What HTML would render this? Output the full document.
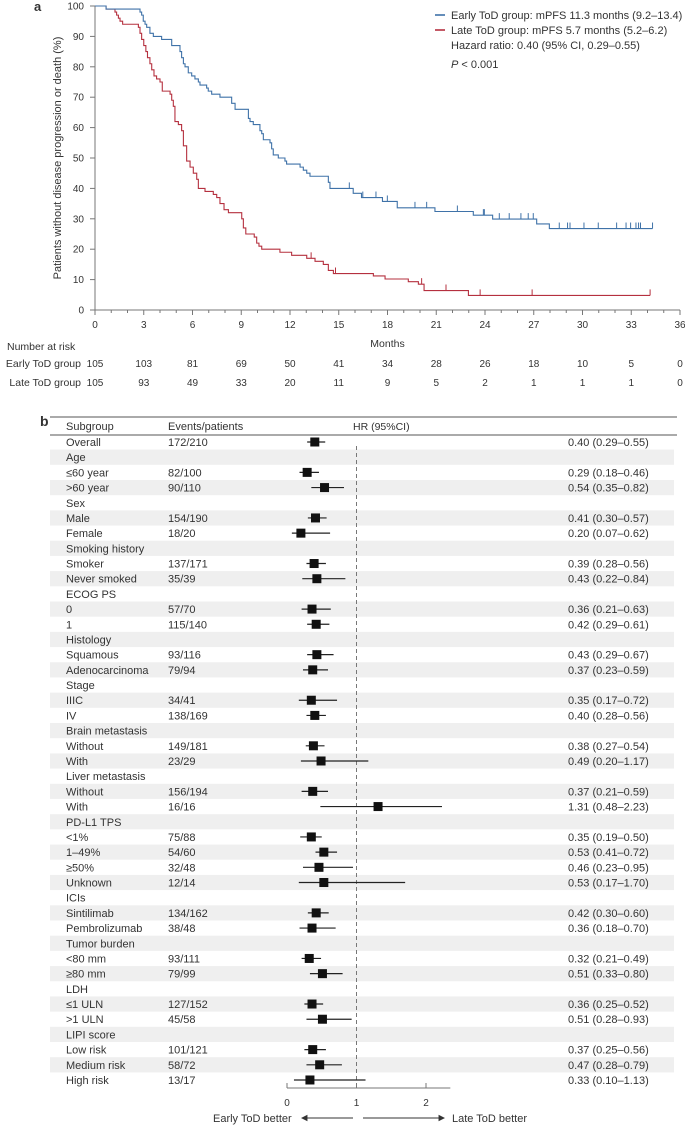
<!DOCTYPE html>
<html><head><meta charset="utf-8"><style>
body{margin:0;background:#fff}
svg{display:block;font-family:"Liberation Sans",sans-serif;fill:#333}
text{fill:#333}
</style></head><body>
<svg id="fig" width="685" height="1125" viewBox="0 0 685 1125" xmlns="http://www.w3.org/2000/svg">
<g id="km"></g>
<g id="fp"></g>
</svg>
<script>
// ---------- KM data ----------
const xTicks=[0,3,6,9,12,15,18,21,24,27,30,33,36];
const yTicks=[0,10,20,30,40,50,60,70,80,90,100];
const earlyT=[0,0.68,2.77,2.87,2.97,3.08,3.18,3.38,3.59,4.10,4.72,5.23,5.33,5.44,5.54,5.74,5.95,6.15,6.36,6.46,6.87,6.97,7.18,7.69,8.41,8.62,9.44,9.54,9.74,10.15,10.26,10.36,10.77,10.87,10.97,11.28,11.69,11.79,12.62,12.82,13.03,13.23,14.36,14.46,15.89,16.40,17.69,18.60,20.92,23.28,24.47,27.18,27.96];
const earlyS=[100,99,98,97,95,94,93,91,90,89,87,85,83,81,80,78,77,76,75,74,73,72,71,70,68,66,63,62,61,59,58,56,55,53,51,50,49,48,47,46,45,44,42,40,38.4,37,35.7,33.6,32.4,31.2,29.9,28.3,26.8];
const earlyEnd=34.31;
const earlyCens=[15.65,16.48,17.29,17.99,19.69,20.41,22.30,23.90,23.96,24.88,25.49,26.21,26.66,26.97,28.57,29.08,29.23,30.09,30.97,32.1,32.68,32.96,33.29,33.45,33.57,34.31];
const lateT=[0,0.68,1.23,1.33,1.44,1.54,1.70,2.67,2.77,2.87,3.0,3.13,3.23,3.38,3.49,3.63,3.79,4.0,4.14,4.62,4.72,4.82,4.92,5.13,5.33,5.44,5.64,5.85,6.05,6.26,6.36,6.77,7.28,7.49,7.69,7.94,8.21,9.03,9.13,9.28,9.8,9.95,10.09,10.26,11.38,12.10,13.03,13.54,14.05,14.36,14.67,17.13,17.85,19.28,19.90,20.25,22.98];
const lateS=[100,99,98,97,96,95,94,93,91,89,87,85,83,81,79,77,76,75,72,71,69,67,62,61,59,54,49,47,45,43,40,39,38,37,35,33,32,30,27,25,24,22,21,20,19,18,17,16,15,13,12,11.2,10.2,9.3,8.5,6.4,4.8];
const lateEnd=34.16;
const lateCens=[13.3,14.8,20.1,21.6,23.7,26.9,34.16];
const riskEarly=[105,103,81,69,50,41,34,28,26,18,10,5,0];
const riskLate=[105,93,49,33,20,11,9,5,2,1,1,1,0];

// ---------- Forest data ----------
const labels=["Overall","Age","≤60 year",">60 year","Sex","Male","Female","Smoking history","Smoker","Never smoked","ECOG PS","0","1","Histology","Squamous","Adenocarcinoma","Stage","IIIC","IV","Brain metastasis","Without","With","Liver metastasis","Without","With","PD-L1 TPS","<1%","1–49%","≥50%","Unknown","ICIs","Sintilimab","Pembrolizumab","Tumor burden","<80 mm","≥80 mm","LDH","≤1 ULN",">1 ULN","LIPI score","Low risk","Medium risk","High risk"];
const events=["172/210","","82/100","90/110","","154/190","18/20","","137/171","35/39","","57/70","115/140","","93/116","79/94","","34/41","138/169","","149/181","23/29","","156/194","16/16","","75/88","54/60","32/48","12/14","","134/162","38/48","","93/111","79/99","","127/152","45/58","","101/121","58/72","13/17"];
const hr=[0.40,null,0.29,0.54,null,0.41,0.20,null,0.39,0.43,null,0.36,0.42,null,0.43,0.37,null,0.35,0.40,null,0.38,0.49,null,0.37,1.31,null,0.35,0.53,0.46,0.53,null,0.42,0.36,null,0.32,0.51,null,0.36,0.51,null,0.37,0.47,0.33];
const lo=[0.29,null,0.18,0.35,null,0.30,0.07,null,0.28,0.22,null,0.21,0.29,null,0.29,0.23,null,0.17,0.28,null,0.27,0.20,null,0.21,0.48,null,0.19,0.41,0.23,0.17,null,0.30,0.18,null,0.21,0.33,null,0.25,0.28,null,0.25,0.28,0.10];
const hi=[0.55,null,0.46,0.82,null,0.57,0.62,null,0.56,0.84,null,0.63,0.61,null,0.67,0.59,null,0.72,0.56,null,0.54,1.17,null,0.59,2.23,null,0.50,0.72,0.95,1.70,null,0.60,0.70,null,0.49,0.80,null,0.52,0.93,null,0.56,0.79,1.13];
const fTicks=[0,1,2];

const NS="http://www.w3.org/2000/svg";
function mk(parent,tag,attrs,txt){const e=document.createElementNS(NS,tag);for(const k in attrs)e.setAttribute(k,attrs[k]);if(txt!==undefined)e.textContent=txt;parent.appendChild(e);return e;}
const km=document.getElementById('km');
const X=m=>95+m*(585/36), Y=v=>310-v*3.04;
const BLUE="#3f72a8", RED="#b5303f";

let t=mk(km,'text',{x:34,y:11,'font-weight':'bold','font-size':13});t.textContent='a';


let ax=mk(km,'path',{d:`M95,${Y(100)}V310H680`,stroke:'#777',fill:'none','stroke-width':1});


yTicks.forEach(v=>{
  const tk=mk(km,'line',{x1:90,x2:95,y1:Y(v),y2:Y(v),stroke:'#777'});
  
  
  const l=mk(km,'text',{x:84,y:Y(v)+3.5,'text-anchor':'end','font-size':10},String(v));
  
  
});
for(let m=0;m<=36;m++){
  const big=m%3===0;
  const tk=mk(km,'line',{x1:X(m),x2:X(m),y1:310,y2:big?315:313,stroke:'#777'});
  
  
}
xTicks.forEach(m=>{
  const l=mk(km,'text',{x:X(m),y:328,'text-anchor':'middle','font-size':10},String(m));
  
  
});
t=mk(km,'text',{x:0,y:0,transform:`translate(61,158) rotate(-90)`,'text-anchor':'middle','font-size':11},'Patients without disease progression or death (%)');


t=mk(km,'text',{x:X(18),y:347,'text-anchor':'middle','font-size':10.5},'Months');



function stepPath(T,S,end){let d=`M${X(T[0])},${Y(S[0])}`;for(let i=1;i<T.length;i++){d+=`H${X(T[i])}V${Y(S[i])}`;}d+=`H${X(end)}`;return d;}
function survAt(T,S,m){let s=S[0];for(let i=0;i<T.length;i++){if(T[i]<=m)s=S[i];}return s;}
let p=mk(km,'path',{d:stepPath(lateT,lateS,lateEnd),stroke:RED,fill:'none','stroke-width':1.1});


p=mk(km,'path',{d:stepPath(earlyT,earlyS,earlyEnd),stroke:BLUE,fill:'none','stroke-width':1.1});


earlyCens.forEach(m=>{const y=Y(survAt(earlyT,earlyS,m));const c=mk(km,'line',{x1:X(m),x2:X(m),y1:y,y2:y-6,stroke:BLUE,'stroke-width':1});
  
  });
lateCens.forEach(m=>{const y=Y(survAt(lateT,lateS,m));const c=mk(km,'line',{x1:X(m),x2:X(m),y1:y,y2:y-6,stroke:RED,'stroke-width':1});
  
  });

const lg=mk(km,'g',{});


let e=mk(lg,'line',{x1:435,x2:445,y1:15,y2:15,stroke:BLUE,'stroke-width':1.6});


e=mk(lg,'text',{x:451,y:19,'font-size':11},'Early ToD group: mPFS 11.3 months (9.2–13.4)');


e=mk(lg,'line',{x1:435,x2:445,y1:30,y2:30,stroke:RED,'stroke-width':1.6});


e=mk(lg,'text',{x:451,y:34,'font-size':11},'Late ToD group: mPFS 5.7 months (5.2–6.2)');


e=mk(lg,'text',{x:451,y:49,'font-size':11},'Hazard ratio: 0.40 (95% CI, 0.29–0.55)');


e=mk(lg,'text',{x:451,y:68,'font-size':11});
e.innerHTML='<tspan font-style="italic">P</tspan> &lt; 0.001';



e=mk(km,'text',{x:7,y:350,'font-size':10.5},'Number at risk');


e=mk(km,'text',{x:81,y:367,'text-anchor':'end','font-size':10.5},'Early ToD group');


e=mk(km,'text',{x:81,y:386,'text-anchor':'end','font-size':10.5},'Late ToD group');


xTicks.forEach((m,i)=>{
  let a=mk(km,'text',{x:X(m),y:367,'text-anchor':'middle','font-size':10},String(riskEarly[i]));
  
  
  a=mk(km,'text',{x:X(m),y:386,'text-anchor':'middle','font-size':10},String(riskLate[i]));
  
  
});

// ---------- forest ----------
const fp=document.getElementById('fp');
const FX=v=>287+v*69.5;
const RH=15.19, R0=442;
e=mk(fp,'text',{x:40,y:426,'font-weight':'bold','font-size':14},'b');


labels.forEach((lab,i)=>{
  const cy=R0+i*RH;
  if(i%2===1){const r=mk(fp,'rect',{x:50,y:cy-RH/2,width:624,height:RH,fill:'#efefef'});
    
    }
});
e=mk(fp,'line',{x1:50,x2:677,y1:417,y2:417,stroke:'#555'});


e=mk(fp,'line',{x1:50,x2:677,y1:435,y2:435,stroke:'#555'});


e=mk(fp,'text',{x:66,y:430,'font-size':11},'Subgroup');


e=mk(fp,'text',{x:168,y:430,'font-size':11},'Events/patients');


e=mk(fp,'text',{x:353,y:430,'font-size':10.5},'HR (95%CI)');


e=mk(fp,'line',{x1:FX(1),x2:FX(1),y1:446,y2:1088,stroke:'#777','stroke-dasharray':'4,3'});


labels.forEach((lab,i)=>{
  const cy=R0+i*RH;
  let a=mk(fp,'text',{x:66,y:cy+4,'font-size':11},lab);
  
  
  if(events[i]){a=mk(fp,'text',{x:168,y:cy+4,'font-size':11},events[i]);
    
    }
  if(hr[i]!==null){
    a=mk(fp,'line',{x1:FX(lo[i]),x2:FX(hi[i]),y1:cy,y2:cy,stroke:'#222','stroke-width':1.2});
    
    
    a=mk(fp,'rect',{x:FX(hr[i])-4.5,y:cy-4.5,width:9,height:9,fill:'#111'});
    
    
    a=mk(fp,'text',{x:568,y:cy+4,'font-size':11},`${hr[i].toFixed(2)} (${lo[i].toFixed(2)}–${hi[i].toFixed(2)})`);
    
    
  }
});
e=mk(fp,'line',{x1:FX(0),x2:FX(2.35),y1:1088,y2:1088,stroke:'#777'});


fTicks.forEach(v=>{
  let a=mk(fp,'line',{x1:FX(v),x2:FX(v),y1:1083,y2:1088,stroke:'#777'});
  
  
  a=mk(fp,'text',{x:FX(v),y:1106,'text-anchor':'middle','font-size':10},String(v));
  
  
});
e=mk(fp,'text',{x:213,y:1122,'font-size':11},'Early ToD better');


e=mk(fp,'path',{d:'M353,1118H302M302,1118l5,-2.5v5z',stroke:'#333',fill:'#333','stroke-width':0.9});


e=mk(fp,'path',{d:'M363,1118H444M444,1118l-5,-2.5v5z',stroke:'#333',fill:'#333','stroke-width':0.9});


e=mk(fp,'text',{x:452,y:1122,'font-size':11},'Late ToD better');


</script>
</body></html>
